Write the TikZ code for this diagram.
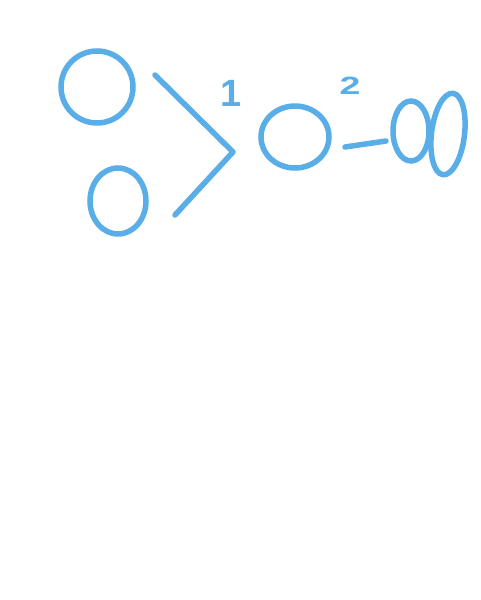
\documentclass[tikz,border=0pt]{standalone}
\usepackage{fontspec}
\setmainfont{Liberation Sans}
\usetikzlibrary{shapes.geometric}
\definecolor{pen}{HTML}{5AAEE8}
\tikzset{
  loop/.style={ellipse, draw=pen, line width=5.5pt, inner sep=0pt},
  stroke/.style={draw=pen, line width=5.5pt, line cap=round, line join=round},
  lbl/.style={text=pen, inner sep=0pt, font=\bfseries}
}
\begin{document}
\begin{tikzpicture}[x=1pt,y=-1pt]
\fill[white] (0,0) rectangle (480,600);
\useasboundingbox (0,0) rectangle (480,600);
\node[loop, minimum width=72pt, minimum height=72pt] (c1) at (97,87) {};
\node[loop, minimum width=56pt, minimum height=66pt] (c2) at (118,201) {};
\node[loop, minimum width=68pt, minimum height=62pt] (c3) at (295,137) {};
\node[loop, minimum width=36pt, minimum height=60pt] (e1) at (411,131) {};
\node[loop, minimum width=33pt, minimum height=82pt, rotate=-7] (e2) at (448,134) {};
\coordinate (v1) at (155,75);
\coordinate (v2) at (233,152);
\coordinate (v3) at (175,215);
\draw[stroke] (v1) -- (v2) -- (v3);
\coordinate (l1) at (345,147);
\coordinate (l2) at (386,141);
\draw[stroke] (l1) -- (l2);
\node[lbl, font=\bfseries\fontsize{38}{40}\selectfont] (n1) at (231,93) {1};
\node[lbl, font=\bfseries\fontsize{25}{27}\selectfont] (n2) at (350,86) {\scalebox{1.5}[1]{2}};
\end{tikzpicture}
\end{document}
